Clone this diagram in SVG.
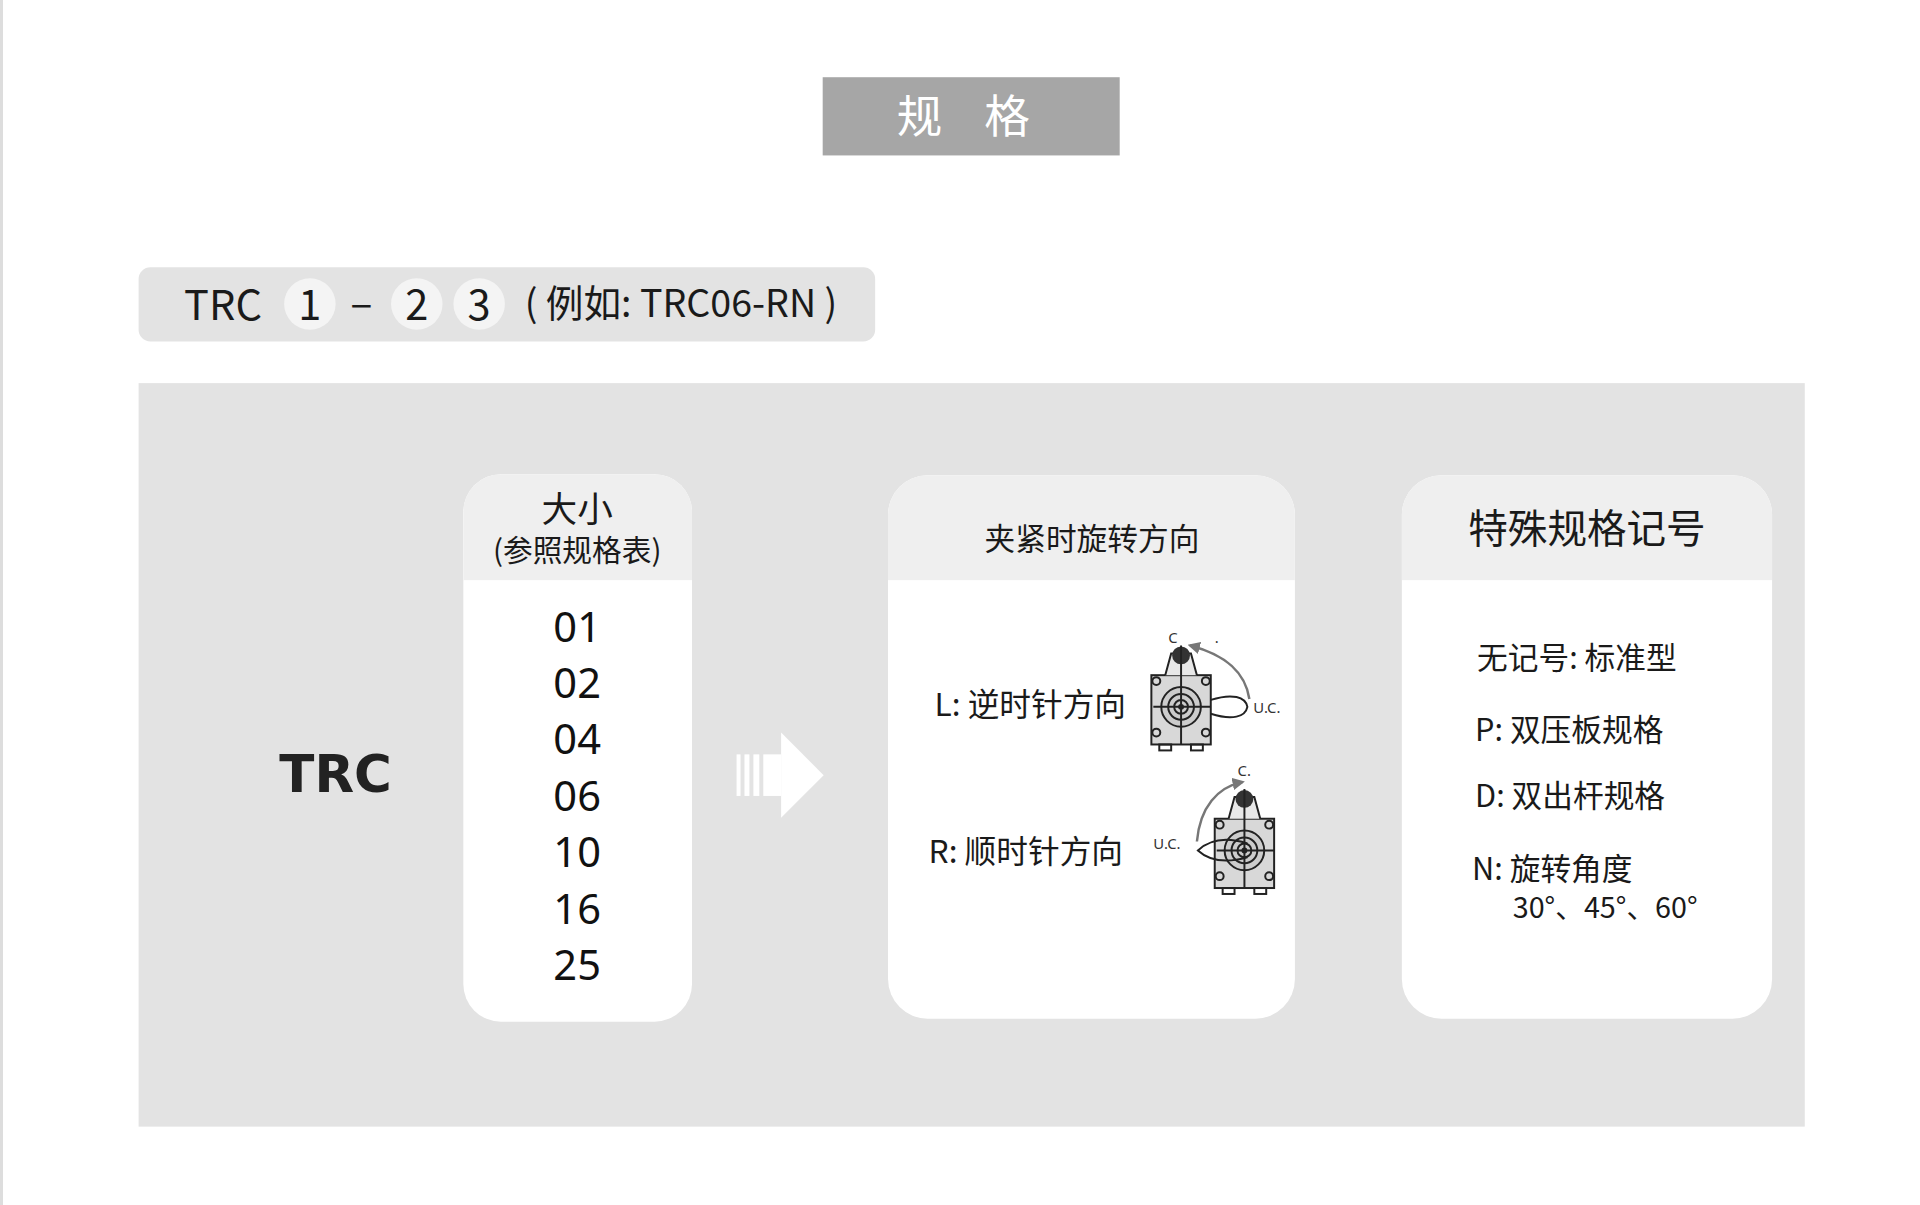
<svg xmlns="http://www.w3.org/2000/svg" width="1920" height="1205" viewBox="0 0 1920 1205">
<defs>
<style>
.t{font-family:"Noto Sans CJK SC","Noto Sans",sans-serif;fill:#1a1a1a}
.card{fill:#fff}
.hd{fill:#efefef}
.num{font-family:"Noto Sans","Open Sans",sans-serif;font-size:42px;fill:#111;text-anchor:middle}
.ic{fill:none;stroke:#222;stroke-width:2}
.arc{fill:none;stroke:#777;stroke-width:2.5}
.sm{font-family:"Noto Sans",sans-serif;font-size:15px;fill:#333}
</style>
<clipPath id="c1"><rect x="468" y="479" width="231" height="553" rx="38"/></clipPath>
<clipPath id="c2"><rect x="897" y="480" width="411" height="549" rx="40"/></clipPath>
<clipPath id="c3"><rect x="1416" y="480" width="374" height="549" rx="40"/></clipPath>
<marker id="ah" viewBox="0 0 10 10" refX="8" refY="5" markerWidth="5" markerHeight="5" orient="auto"><path d="M0,0L10,5L0,10z" fill="#777"/></marker>
<g id="valve">
<rect x="0" y="30" width="60" height="70" class="ic" style="fill:#d8d8d8"/>
<rect x="8" y="100" width="12" height="6" class="ic"/><rect x="40" y="100" width="12" height="6" class="ic"/>
<path d="M14,30 L20,8 L40,8 L46,30" class="ic" style="fill:#e8e8e8"/>
<circle cx="30" cy="10" r="9" fill="#333"/>
<circle cx="30" cy="62" r="20" class="ic" style="fill:#ccc"/>
<circle cx="30" cy="62" r="13" class="ic"/><circle cx="30" cy="62" r="7" class="ic"/><circle cx="30" cy="62" r="3" fill="#222"/>
<line x1="30" y1="0" x2="30" y2="100" class="ic" stroke-width="1"/>
<line x1="2" y1="62" x2="60" y2="62" class="ic" stroke-width="1"/>
<circle cx="5" cy="36" r="4" class="ic"/><circle cx="55" cy="36" r="4" class="ic"/><circle cx="5" cy="88" r="4" class="ic"/><circle cx="55" cy="88" r="4" class="ic"/>
</g>
</defs>
<rect width="1920" height="1205" fill="#fff"/>
<rect x="0" y="0" width="3" height="1205" fill="#ddd"/>
<g transform="scale(0.99)">
<g id="title">
<rect x="831" y="78" width="300" height="79" fill="#a6a6a6"/>
<text x="981" y="134" text-anchor="middle" class="t" style="fill:#fff;font-size:46px;letter-spacing:16px">规 格</text>
</g>
<g id="formula">
<rect x="140" y="270" width="744" height="75" rx="12" fill="#e3e3e3"/>
<circle cx="313" cy="307" r="26" fill="#f4f4f4"/>
<circle cx="421" cy="307" r="26" fill="#f4f4f4"/>
<circle cx="484" cy="307" r="26" fill="#f4f4f4"/>
<g class="t" style="font-size:42px">
<text x="186" y="323">TRC</text>
<text x="313" y="323" text-anchor="middle">1</text>
<text x="365" y="321" text-anchor="middle">–</text>
<text x="421" y="323" text-anchor="middle">2</text>
<text x="484" y="323" text-anchor="middle">3</text>
<text x="530" y="320" style="font-size:38px">( 例如: TRC06-RN )</text>
</g>
</g>
<rect x="140" y="387" width="1683" height="751" fill="#e3e3e3"/>
<g id="trc"><text x="339" y="800" text-anchor="middle" style="font-family:'DejaVu Sans',sans-serif;font-weight:bold;font-size:52px;fill:#222">TRC</text></g>
<g id="size">
<rect x="468" y="479" width="231" height="553" rx="38" class="card"/>
<rect x="468" y="479" width="231" height="107" class="hd" clip-path="url(#c1)"/>
<text x="583" y="527" text-anchor="middle" class="t" style="font-size:36px">大小</text>
<text x="583" y="567" text-anchor="middle" class="t" style="font-size:30px">(参照规格表)</text>
<text x="583" y="648" class="num">01</text>
<text x="583" y="705" class="num">02</text>
<text x="583" y="762" class="num">04</text>
<text x="583" y="819" class="num">06</text>
<text x="583" y="876" class="num">10</text>
<text x="583" y="933" class="num">16</text>
<text x="583" y="990" class="num">25</text>
</g>
<g id="arrow" fill="#fff">
<rect x="744" y="762" width="4" height="42"/><rect x="752" y="762" width="5" height="42"/><rect x="761" y="762" width="6" height="42"/><rect x="771" y="762" width="18" height="42"/>
<path d="M789,740 L832,783 L789,826 Z"/>
</g>
<g id="dir">
<rect x="897" y="480" width="411" height="549" rx="40" class="card"/>
<rect x="897" y="480" width="411" height="106" class="hd" clip-path="url(#c2)"/>
<text x="1103" y="556" text-anchor="middle" class="t" style="font-size:31px">夹紧时旋转方向</text>
<text x="944" y="723" class="t" style="font-size:32px">L: 逆时针方向</text>
<text x="938" y="872" class="t" style="font-size:32px">R: 顺时针方向</text>
<use href="#valve" x="1163" y="652"/>
<path d="M1223,707 C1245,700 1258,704 1260,714 C1258,724 1245,728 1223,721" class="ic"/>
<path d="M1262,706 C1258,680 1240,662 1202,652" class="arc" marker-end="url(#ah)"/>
<text x="1180" y="650" class="sm">C</text><text x="1227" y="650" class="sm">.</text>
<text x="1266" y="720" class="sm">U.C.</text>
<use href="#valve" x="1227" y="797"/>
<path d="M1260,852 C1238,845 1222,848 1210,859 C1222,870 1238,872 1260,866" class="ic"/>
<path d="M1209,850 C1212,815 1230,795 1255,790" class="arc" marker-end="url(#ah)"/>
<text x="1250" y="784" class="sm">C.</text>
<text x="1165" y="858" class="sm">U.C.</text>
</g>
<g id="special">
<rect x="1416" y="480" width="374" height="549" rx="40" class="card"/>
<rect x="1416" y="480" width="374" height="106" class="hd" clip-path="url(#c3)"/>
<text x="1603" y="548" text-anchor="middle" class="t" style="font-size:40px">特殊规格记号</text>
<g class="t" style="font-size:31px">
<text x="1492" y="676">无记号: 标准型</text>
<text x="1490" y="748">P: 双压板规格</text>
<text x="1490" y="815">D: 双出杆规格</text>
<text x="1487" y="889">N: 旋转角度</text>
<text x="1528" y="927" style="font-size:29px">30°、45°、60°</text>
</g>
</g>
</g>
</svg>
